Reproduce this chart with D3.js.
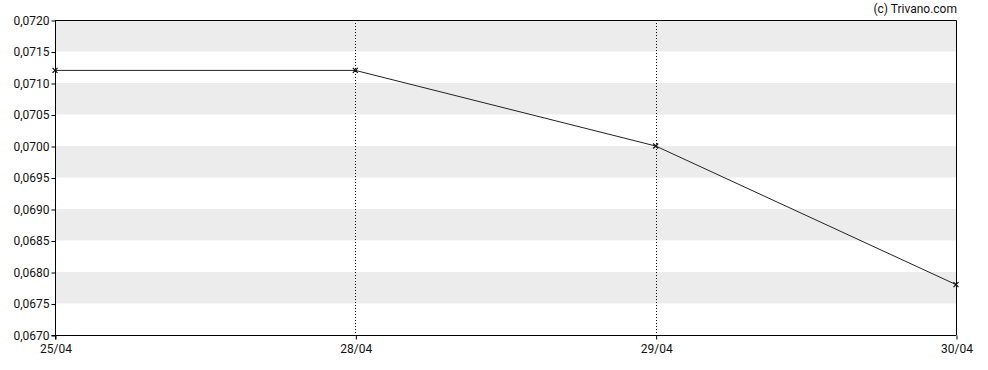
<!DOCTYPE html>
<html>
<head>
<meta charset="utf-8">
<script src="https://cdn.jsdelivr.net/npm/d3@7"></script>
<style>
  body { margin: 0; background: #fff; }
  svg { display: block; font-family: Roboto, sans-serif; }
</style>
</head>
<body>
<svg id="canvas"></svg>
<script>
let dates = ['25/04', '28/04', '29/04', '30/04']
let prices = [0.0712, 0.0712, 0.0700, 0.0678]
let yTicks = [0.0670, 0.0675, 0.0680, 0.0685, 0.0690, 0.0695, 0.0700, 0.0705, 0.0710, 0.0715, 0.0720]

let width = 988
let height = 370
let plotLeft = 55
let plotRight = 956
let plotTop = 20
let plotBottom = 335

let canvas = d3.select('#canvas')
               .attr('width', width)
               .attr('height', height)

let xScale = d3.scalePoint()
               .domain(dates)
               .range([plotLeft, plotRight])

let yScale = d3.scaleLinear()
               .domain([0.0670, 0.0720])
               .range([plotBottom, plotTop])

let fmt = (d) => d3.format('.4f')(d).replace('.', ',')

// grey bands, every other step
let bands = yTicks.slice(0, -1).filter((d, i) => i % 2 === 1)
canvas.selectAll('rect.band')
      .data(bands)
      .enter()
      .append('rect')
      .attr('class', 'band')
      .attr('x', plotLeft)
      .attr('width', plotRight - plotLeft)
      .attr('y', (d) => yScale(d + 0.0005))
      .attr('height', (d) => yScale(d) - yScale(d + 0.0005))
      .attr('fill', '#ececec')

// dotted verticals on inner dates
canvas.selectAll('line.vgrid')
      .data(dates.slice(1, -1))
      .enter()
      .append('line')
      .attr('x1', (d) => Math.round(xScale(d)) + 0.5)
      .attr('x2', (d) => Math.round(xScale(d)) + 0.5)
      .attr('y1', plotTop)
      .attr('y2', plotBottom)
      .attr('stroke', '#000')
      .attr('stroke-dasharray', '1,2')

// frame top and right
canvas.append('path')
      .attr('d', `M${plotLeft},${plotTop + 0.5}H${plotRight + 0.5}V${plotBottom}`)
      .attr('fill', 'none')
      .attr('stroke', '#000')

let yAxis = d3.axisLeft(yScale)
              .tickValues(yTicks)
              .tickFormat(fmt)
              .tickSize(4)
              .tickPadding(2)

let xAxis = d3.axisBottom(xScale)
              .tickSize(4)
              .tickPadding(5)

canvas.append('g')
      .attr('transform', `translate(${plotLeft + 0.5}, 0.5)`)
      .call(yAxis)
      .call(g => g.selectAll('text').attr('font-size', 12).attr('fill', '#111').attr('font-family', 'Roboto, sans-serif'))
      .call(g => g.select('.domain').attr('d', `M-4,${plotBottom}H0V${plotTop}`))

canvas.append('g')
      .attr('transform', `translate(0.5, ${plotBottom + 0.5})`)
      .call(xAxis)
      .call(g => g.selectAll('text').attr('font-size', 12).attr('fill', '#111').attr('font-family', 'Roboto, sans-serif'))
      .call(g => g.select('.domain').attr('d', `M${plotLeft},4V0H${plotRight}`))

let line = d3.line()
             .x((d, i) => xScale(dates[i]))
             .y((d) => yScale(d))

canvas.append('path')
      .datum(prices)
      .attr('d', line)
      .attr('fill', 'none')
      .attr('stroke', '#222')
      .attr('stroke-width', 1)

canvas.selectAll('path.mark')
      .data(prices)
      .enter()
      .append('path')
      .attr('class', 'mark')
      .attr('transform', (d, i) => `translate(${xScale(dates[i])}, ${yScale(d)})`)
      .attr('d', 'M-2.5,-2.5L2.5,2.5M-2.5,2.5L2.5,-2.5')
      .attr('stroke', '#111')
      .attr('stroke-width', 1.3)

canvas.append('text')
      .attr('x', plotRight + 1)
      .attr('y', 13)
      .attr('text-anchor', 'end')
      .attr('font-size', 12)
      .attr('fill', '#111')
      .text('(c) Trivano.com')
</script>
</body>
</html>
